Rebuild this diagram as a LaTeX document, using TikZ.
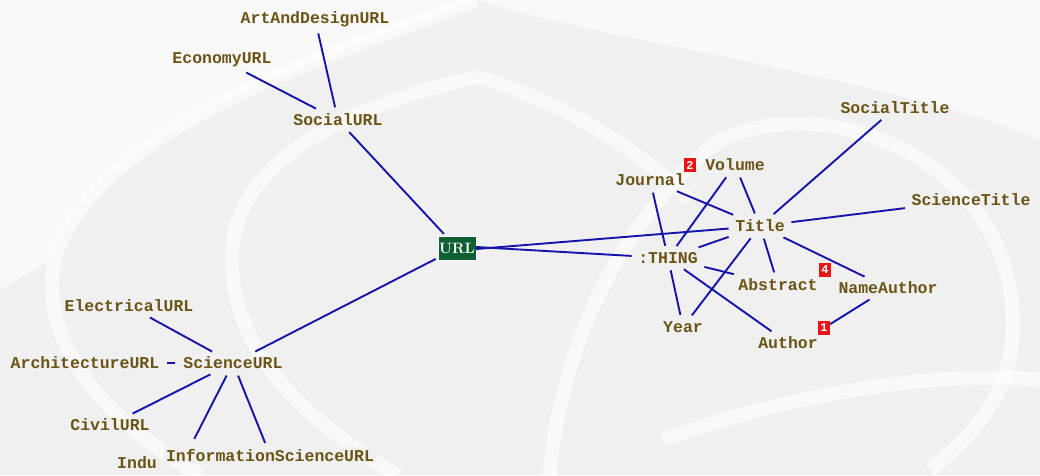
\documentclass[tikz,border=0pt]{standalone}
\usepackage{fontspec}
\newfontfamily\monob{Liberation Mono}[Scale=1]
\usetikzlibrary{calc}
\definecolor{bggray}{RGB}{240,240,240}
\definecolor{txtbrown}{RGB}{108,84,22}
\definecolor{edgeblue}{RGB}{20,20,170}
\definecolor{urlgreen}{RGB}{14,96,50}
\definecolor{badgered}{RGB}{235,20,20}
\tikzset{
  lbl/.style={font=\monob\bfseries\fontsize{16.5}{18}\selectfont, text=txtbrown, inner sep=4pt},
  edge/.style={draw=edgeblue, line width=1.9pt, shorten <=2.5pt, shorten >=2.5pt},
  badge/.style={fill=badgered, text=white, font=\monob\bfseries\fontsize{12}{12}\selectfont, minimum width=12pt, minimum height=14pt, inner sep=0pt},
  urlbox/.style={fill=urlgreen, draw=white, line width=0.6pt, text=white, font=\bfseries\fontsize{15}{16}\selectfont, minimum width=36pt, minimum height=24pt, inner sep=1pt},
  wm/.style={draw=white, line width=14pt, opacity=0.6}
}
\begin{document}
\begin{tikzpicture}[x=1pt,y=-1pt]
\useasboundingbox (0,0) rectangle (1040,475);
\fill[bggray] (0,0) rectangle (1040,475);
% watermark (approximate logo)
\fill[white,opacity=0.6] (0,0) -- (477,0) .. controls (380,40) and (90,120) .. (50,260) -- (0,290) -- cycle;
\fill[white,opacity=0.6] (477,0) -- (1040,0) -- (1040,140) .. controls (900,80) and (600,40) .. (477,0) -- cycle;
\draw[wm] (477,0) .. controls (380,40) and (90,120) .. (55,260) .. controls (35,350) and (120,430) .. (200,475);
\draw[wm] (477,77) .. controls (330,110) and (230,170) .. (232,260) .. controls (232,360) and (320,430) .. (398,475);
\draw[wm] (550,475) .. controls (560,330) and (640,200) .. (720,140) .. controls (830,90) and (990,160) .. (1010,290) .. controls (1025,380) and (980,430) .. (930,470);
\draw[wm] (477,77) .. controls (560,100) and (640,150) .. (690,200);
\draw[wm] (663,440) .. controls (800,390) and (950,370) .. (1040,380);

% nodes
\node[urlbox] (url) at (457,248) {URL};
\node[lbl] (social) at (338,120) {SocialURL};
\node[lbl] (art) at (315,19) {ArtAndDesignURL};
\node[lbl] (eco) at (222,60) {EconomyURL};
\node[lbl] (sci) at (233,363) {ScienceURL};
\node[lbl] (elec) at (129,306) {ElectricalURL};
\node[lbl] (arch) at (85,363) {ArchitectureURL};
\node[lbl] (civil) at (110,425) {CivilURL};
\node[lbl,anchor=west] (indu) at (113,463) {Indu};
\coordinate (induc) at (182,463);
\node[lbl,fill=bggray,inner sep=2pt] (info) at (270,455) {InformationScienceURL};
\node[lbl] (thing) at (668,258) {:THING};
\node[lbl] (journal) at (650,180) {Journal};
\node[lbl] (volume) at (735,165) {Volume};
\node[lbl] (title) at (760,226) {Title};
\node[lbl] (socialt) at (895,108) {SocialTitle};
\node[lbl] (sciencet) at (971,200) {ScienceTitle};
\node[lbl] (abstract) at (778,285) {Abstract};
\node[lbl] (nameauthor) at (888,288) {NameAuthor};
\node[lbl] (year) at (683,327) {Year};
\node[lbl] (author) at (788,343) {Author};
\node[badge] (b2) at (690,165) {2};
\node[badge] (b4) at (825,270) {4};
\node[badge] (b1) at (824,328) {1};

% edges
\draw[edge] (social) -- (art);
\draw[edge] (social) -- (eco);
\draw[edge] (social) -- (url);
\draw[edge] (url) -- (sci);
\draw[edge] (sci) -- (elec);
\draw[edge,shorten <=4pt,shorten >=4pt] (sci) -- (arch);
\draw[edge] (sci) -- (civil);
\draw[edge,shorten >=27pt] (sci) -- (induc);
\draw[edge,shorten >=4pt] (sci) -- (info);
\draw[edge,shorten <=0pt] ([yshift=-1pt]url.east) -- (title);
\draw[edge,shorten <=0pt] ([yshift=1pt]url.east) -- (thing);
\draw[edge] (thing) -- (journal);
\draw[edge] (thing) -- (volume);
\draw[edge] (thing) -- (title);
\draw[edge] (thing) -- (abstract);
\draw[edge] (thing) -- (year);
\draw[edge] (thing) -- (author);
\draw[edge] (title) -- (journal);
\draw[edge] (title) -- (volume);
\draw[edge] (title) -- (year);
\draw[edge] (title) -- (abstract);
\draw[edge] (title) -- (socialt);
\draw[edge] (title) -- (sciencet);
\draw[edge] (title) -- (nameauthor);
\draw[edge,shorten >=0pt] (nameauthor) -- (b1);
\end{tikzpicture}
\end{document}
